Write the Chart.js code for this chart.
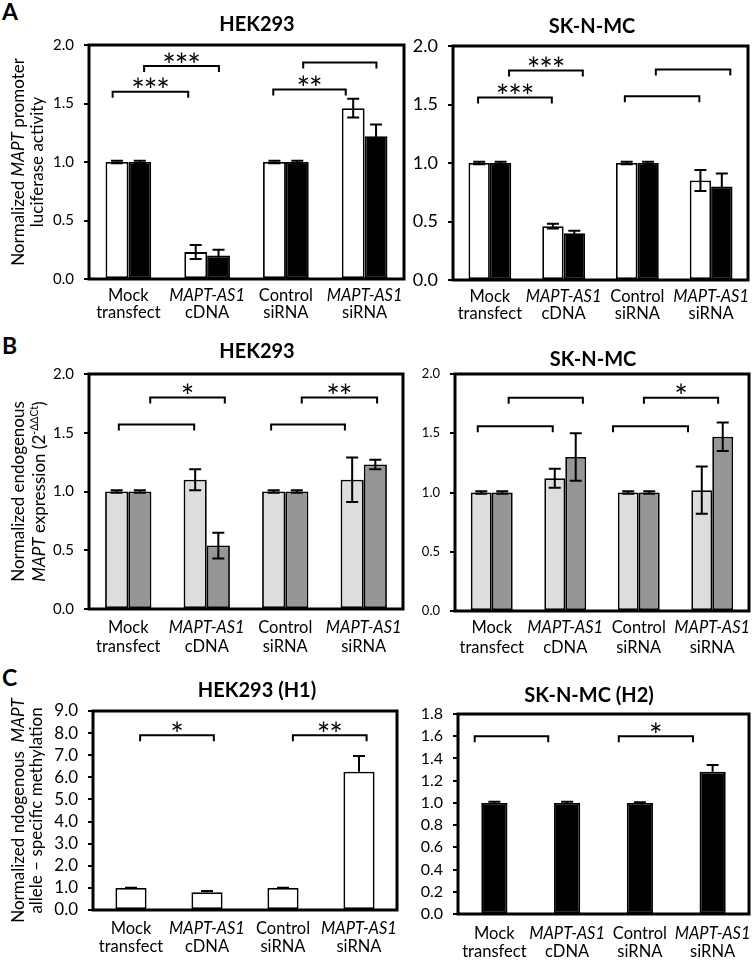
<!DOCTYPE html>
<html lang="en">
<head>
<meta charset="UTF-8">
<title>MAPT-AS1 panels</title>
<script src="https://cdn.jsdelivr.net/npm/chart.js"></script>
<style>
  body { margin: 0; background: #fff; }
  #page { position: relative; width: 756px; height: 960px; }
  #page canvas { position: absolute; left: 0; top: 0; }
  .letter { position: absolute; font: bold 23px Lato, sans-serif; color: #000; }
</style>
</head>
<body>
<div id="page">
  <div class="letter" style="left:2px; top:-3px">A</div>
  <div class="letter" style="left:2px; top:331px">B</div>
  <div class="letter" style="left:2px; top:663px">C</div>
  <canvas id="aHek" width="756" height="960"></canvas>
  <canvas id="aSk" width="756" height="960"></canvas>
  <canvas id="bHek" width="756" height="960"></canvas>
  <canvas id="bSk" width="756" height="960"></canvas>
  <canvas id="cHek" width="756" height="960"></canvas>
  <canvas id="cSk" width="756" height="960"></canvas>
</div>
<script>
// categories and their two-line labels
const categories = ['Mock transfect', 'MAPT-AS1 cDNA', 'Control siRNA', 'MAPT-AS1 siRNA'];
const labelTop = ['Mock', 'MAPT-AS1', 'Control', 'MAPT-AS1'];
const labelBottom = ['transfect', 'cDNA', 'siRNA', 'siRNA'];
const labelTopItalic = [false, true, false, true];

// A: promoter luciferase activity
const lucHekWhite = [1.00, 0.23, 1.00, 1.46];
const lucHekWhiteErr = [0.01, 0.06, 0.01, 0.08];
const lucHekBlack = [1.00, 0.20, 1.00, 1.22];
const lucHekBlackErr = [0.01, 0.05, 0.01, 0.10];
const lucSkWhite = [1.00, 0.46, 1.00, 0.85];
const lucSkWhiteErr = [0.01, 0.02, 0.01, 0.09];
const lucSkBlack = [1.00, 0.40, 1.00, 0.80];
const lucSkBlackErr = [0.01, 0.02, 0.01, 0.11];

// B: endogenous expression
const exprHekLight = [1.00, 1.10, 1.00, 1.10];
const exprHekLightErr = [0.01, 0.09, 0.01, 0.19];
const exprHekDark = [1.00, 0.54, 1.00, 1.23];
const exprHekDarkErr = [0.01, 0.11, 0.01, 0.04];
const exprSkLight = [1.00, 1.12, 1.00, 1.02];
const exprSkLightErr = [0.01, 0.08, 0.01, 0.20];
const exprSkDark = [1.00, 1.30, 1.00, 1.47];
const exprSkDarkErr = [0.01, 0.20, 0.01, 0.12];

// C: allele-specific methylation
const methHek = [1.00, 0.80, 1.00, 6.25];
const methHekErr = [0.01, 0.06, 0.01, 0.72];
const methSk = [1.00, 1.00, 1.00, 1.28];
const methSkErr = [0.01, 0.01, 0.005, 0.06];

// significance brackets: [from category, to category, height, stars]
const lucHekBrackets = [[-0.2, 0.76, 1.60, '***'], [0.2, 1.15, 1.82, '***'], [1.84, 2.76, 1.62, '**'], [2.22, 3.15, 1.85, '']];
const lucSkBrackets = [[-0.16, 0.84, 1.56, '***'], [0.26, 1.26, 1.79, '***'], [1.83, 2.84, 1.57, ''], [2.25, 3.26, 1.80, '']];
const exprHekBrackets = [[-0.12, 0.84, 1.57, ''], [0.28, 1.23, 1.80, '*'], [1.82, 2.76, 1.57, ''], [2.21, 3.17, 1.80, '**']];
const exprSkBrackets = [[-0.19, 0.83, 1.56, ''], [0.23, 1.24, 1.80, ''], [1.65, 2.67, 1.56, ''], [2.07, 3.08, 1.80, '*']];
const methHekBrackets = [[0.12, 1.09, 7.9, '*'], [2.13, 3.10, 7.9, '**']];
const methSkBrackets = [[-0.27, 0.74, 1.60, ''], [1.71, 2.73, 1.60, '*']];

const FONT = 'Lato, sans-serif';

function partsWidth(ctx, parts, size) {
  let w = 0;
  parts.forEach(p => {
    ctx.font = (p.i ? 'italic ' : '') + (p.sup ? size * 0.62 : size) + 'px ' + FONT;
    w += ctx.measureText(p.t).width;
  });
  return w;
}

function drawParts(ctx, parts, cx, cy, size) {
  let x = cx - partsWidth(ctx, parts, size) / 2;
  ctx.textAlign = 'left';
  ctx.textBaseline = 'middle';
  parts.forEach(p => {
    ctx.font = (p.i ? 'italic ' : '') + (p.sup ? size * 0.62 : size) + 'px ' + FONT;
    ctx.fillText(p.t, x, p.sup ? cy - size * 0.3 : cy);
    x += ctx.measureText(p.t).width;
  });
}

function drawStars(ctx, cx, cy, n) {
  ctx.font = '32px ' + FONT;
  ctx.textAlign = 'center';
  ctx.textBaseline = 'alphabetic';
  const m = ctx.measureText('*');
  const base = cy + (m.actualBoundingBoxAscent - m.actualBoundingBoxDescent) / 2;
  for (let k = 0; k < n; k++) {
    ctx.fillText('*', cx + (k - (n - 1) / 2) * 12.5, base);
  }
}

function decor(o) {
  return {
    id: 'decor',
    afterDatasetsDraw(chart) {
      const ctx = chart.ctx, xs = chart.scales.x, ys = chart.scales.y;
      ctx.save();
      ctx.strokeStyle = '#000';
      ctx.fillStyle = '#000';
      ctx.lineWidth = 2;
      // error bars
      o.series.forEach((s, d) => {
        const meta = chart.getDatasetMeta(d);
        s.data.forEach((v, i) => {
          const bx = meta.data[i].x;
          const top = ys.getPixelForValue(v + s.err[i]);
          const bot = ys.getPixelForValue(o.errUp ? v : v - s.err[i]);
          ctx.beginPath();
          ctx.moveTo(bx, bot); ctx.lineTo(bx, top);
          ctx.moveTo(bx - 6, top); ctx.lineTo(bx + 6, top);
          if (!o.errUp) { ctx.moveTo(bx - 6, bot); ctx.lineTo(bx + 6, bot); }
          ctx.stroke();
        });
      });
      // brackets
      o.brackets.forEach(([a, b, v, stars]) => {
        const x0 = xs.getPixelForValue(a), x1 = xs.getPixelForValue(b), yy = ys.getPixelForValue(v);
        ctx.beginPath();
        ctx.moveTo(x0, yy + 6); ctx.lineTo(x0, yy); ctx.lineTo(x1, yy); ctx.lineTo(x1, yy + 6);
        ctx.stroke();
        if (stars) drawStars(ctx, (x0 + x1) / 2, yy - 9, stars.length);
      });
      ctx.restore();
    },
    afterDraw(chart) {
      const ctx = chart.ctx, xs = chart.scales.x, a = chart.chartArea;
      ctx.save();
      ctx.strokeStyle = '#000';
      ctx.fillStyle = '#000';
      ctx.lineWidth = 3;
      ctx.strokeRect(a.left, a.top, a.right - a.left, a.bottom - a.top);
      // category labels
      categories.forEach((c, i) => {
        const px = xs.getPixelForValue(i);
        drawParts(ctx, [{ t: labelTop[i], i: labelTopItalic[i] }], px, a.bottom + o.labelDy[0], 16.5);
        drawParts(ctx, [{ t: labelBottom[i] }], px, a.bottom + o.labelDy[1], 16.5);
      });
      // title
      ctx.font = 'bold 20px ' + FONT;
      ctx.textAlign = 'center';
      ctx.textBaseline = 'middle';
      ctx.fillText(o.title[0], o.title[1], o.title[2]);
      // y title
      if (o.yTitle) {
        const cy = (a.top + a.bottom) / 2;
        o.yTitle.forEach(line => {
          ctx.save();
          ctx.translate(line.x, cy);
          ctx.rotate(-Math.PI / 2);
          drawParts(ctx, line.parts, 0, 0, 17);
          ctx.restore();
        });
      }
      ctx.restore();
    }
  };
}

function panel(id, box, o) {
  new Chart(document.getElementById(id), {
    type: 'bar',
    data: {
      labels: categories,
      datasets: o.series.map(s => ({
        data: s.data,
        backgroundColor: s.color,
        borderColor: '#000',
        borderWidth: 1.8,
        borderSkipped: false,
        categoryPercentage: o.groupWidth,
        barPercentage: 1
      }))
    },
    options: {
      responsive: false,
      animation: false,
      layout: { padding: { left: box[0] - 60, top: box[1], right: 756 - box[2], bottom: 960 - box[3] } },
      plugins: { legend: { display: false }, tooltip: { enabled: false } },
      scales: {
        x: { display: false },
        y: {
          min: 0,
          max: o.yMax,
          ticks: {
            stepSize: o.yStep,
            autoSkip: false,
            callback: v => v.toFixed(1),
            font: { family: FONT, size: o.tickSize },
            color: '#000',
            padding: 10
          },
          grid: { drawOnChartArea: false, drawTicks: true, tickLength: 5, color: '#000', lineWidth: 2 },
          border: { display: false },
          afterFit: s => { s.width = 60; }
        }
      }
    },
    plugins: [decor(o)]
  });
}

const WHITE = '#ffffff', BLACK = '#000000', LIGHT = '#dddddd', DARK = '#969696';

const lucTitle = [
  { x: 19, parts: [{ t: 'Normalized ' }, { t: 'MAPT', i: true }, { t: ' promoter' }] },
  { x: 38, parts: [{ t: 'luciferase activity' }] }
];
const exprTitle = [
  { x: 19, parts: [{ t: 'Normalized endogenous' }] },
  { x: 40, parts: [{ t: 'MAPT', i: true }, { t: ' expression (2' }, { t: '-ΔΔCt', sup: true }, { t: ')' }] }
];
const methTitle = [
  { x: 19, parts: [{ t: 'Normalized ndogenous  ' }, { t: 'MAPT', i: true }] },
  { x: 37, parts: [{ t: 'allele – specific methylation' }] }
];

panel('aHek', [89, 45, 404, 279], {
  series: [{ data: lucHekWhite, err: lucHekWhiteErr, color: WHITE }, { data: lucHekBlack, err: lucHekBlackErr, color: BLACK }],
  brackets: lucHekBrackets, groupWidth: 0.58, yMax: 2, yStep: 0.5, tickSize: 15,
  title: ['HEK293', 257, 25], yTitle: lucTitle, labelDy: [17, 34]
});
panel('aSk', [453, 46, 748, 280], {
  series: [{ data: lucSkWhite, err: lucSkWhiteErr, color: WHITE }, { data: lucSkBlack, err: lucSkBlackErr, color: BLACK }],
  brackets: lucSkBrackets, groupWidth: 0.58, yMax: 2, yStep: 0.5, tickSize: 18,
  title: ['SK-N-MC', 592, 27], labelDy: [17, 34]
});
panel('bHek', [89, 374, 403, 609], {
  series: [{ data: exprHekLight, err: exprHekLightErr, color: LIGHT }, { data: exprHekDark, err: exprHekDarkErr, color: DARK }],
  brackets: exprHekBrackets, groupWidth: 0.59, yMax: 2, yStep: 0.5, tickSize: 15,
  title: ['HEK293', 257, 352], yTitle: exprTitle, labelDy: [19, 38]
});
panel('bSk', [455, 374, 749, 611], {
  series: [{ data: exprSkLight, err: exprSkLightErr, color: LIGHT }, { data: exprSkDark, err: exprSkDarkErr, color: DARK }],
  brackets: exprSkBrackets, groupWidth: 0.57, yMax: 2, yStep: 0.5, tickSize: 13,
  title: ['SK-N-MC', 593, 360], labelDy: [17, 37]
});
panel('cHek', [93, 711, 397, 910], {
  series: [{ data: methHek, err: methHekErr, color: WHITE }],
  brackets: methHekBrackets, groupWidth: 0.41, yMax: 9, yStep: 1, tickSize: 17, errUp: true,
  title: ['HEK293 (H1)', 257, 691], yTitle: methTitle, labelDy: [19, 37]
});
panel('cSk', [458, 714, 749, 914], {
  series: [{ data: methSk, err: methSkErr, color: BLACK }],
  brackets: methSkBrackets, groupWidth: 0.36, yMax: 1.8, yStep: 0.2, tickSize: 16, errUp: true,
  title: ['SK-N-MC (H2)', 589, 696], labelDy: [20, 38]
});
</script>
</body>
</html>
